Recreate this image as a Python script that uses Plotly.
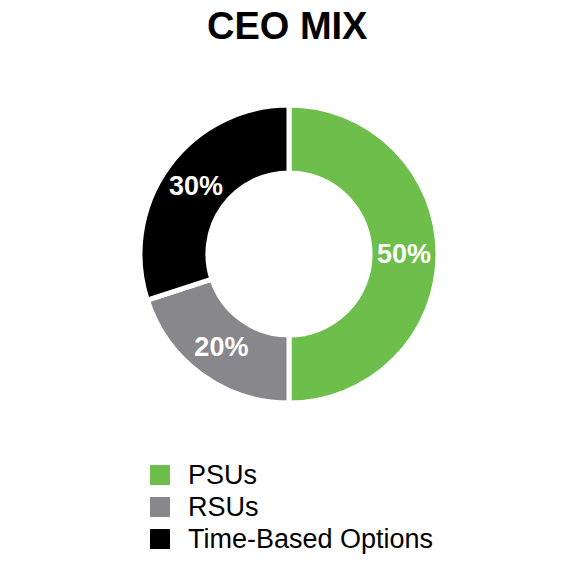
import plotly.graph_objects as go

W, H = 576, 576

title_text = "CEO MIX"
labels = ["PSUs", "RSUs", "Time-Based Options"]
values = [50, 20, 30]
colors = ["#6DBE4B", "#88878C", "#000000"]

FONT = "Liberation Sans, Arial, sans-serif"

# donut geometry (page pixels)
cx, cy, R = 289, 254, 149
hole = 80 / 147

fig = go.Figure()
fig.add_trace(go.Pie(
    labels=labels,
    values=values,
    sort=False,
    direction="clockwise",
    rotation=0,
    hole=hole,
    marker=dict(colors=colors, line=dict(color="white", width=5)),
    texttemplate="%{percent:.0%}",
    textposition="inside",
    insidetextorientation="horizontal",
    textfont=dict(family=FONT, size=27, color="white", weight="bold"),
    showlegend=False,
    hoverinfo="label+percent",
    domain=dict(x=[(cx - R) / W, (cx + R) / W], y=[1 - (cy + R) / H, 1 - (cy - R) / H]),
))

shapes = []
annotations = []
# legend (manual, larger swatches)
lx0, ly0, sw, step = 150, 475, 20, 32
for i, (lab, col) in enumerate(zip(labels, colors)):
    yc = ly0 + i * step
    shapes.append(dict(type="rect", xref="paper", yref="paper",
                       x0=lx0 / W, x1=(lx0 + sw) / W,
                       y0=1 - (yc + sw / 2) / H, y1=1 - (yc - sw / 2) / H,
                       fillcolor=col, line=dict(width=0)))
    annotations.append(dict(text=lab, xref="paper", yref="paper",
                            x=186 / W, y=1 - yc / H, xanchor="left", yanchor="middle",
                            showarrow=False,
                            font=dict(family=FONT, size=27, color="black")))

annotations.append(dict(text="<b>" + title_text + "</b>", xref="paper", yref="paper",
                        x=287 / W, y=1 - 26 / H, xanchor="center", yanchor="middle",
                        showarrow=False,
                        font=dict(family=FONT, size=38, color="black")))

fig.update_layout(
    width=W, height=H,
    margin=dict(l=0, r=0, t=0, b=0),
    paper_bgcolor="white",
    plot_bgcolor="white",
    shapes=shapes,
    annotations=annotations,
    uniformtext=dict(minsize=27, mode="show"),
)

fig.write_html("out.html", config={"displayModeBar": False},
               post_script="document.body.style.margin='0';")
